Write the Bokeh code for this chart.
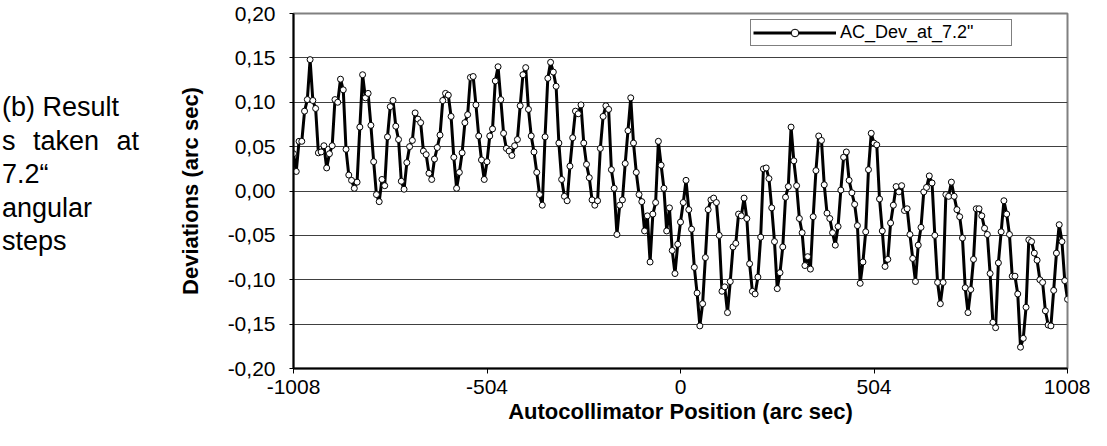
import numpy as np
from bokeh.plotting import figure
from bokeh.layouts import row
from bokeh.models import (Range1d, FixedTicker, CustomJSTickFormatter, Div,
                          Legend, LegendItem, ColumnDataSource)
from bokeh.embed import file_html
from bokeh.resources import INLINE

# ---------------- data ----------------
x_start = -1008.0
x_step = 7.2
deviations = [
    0.042, 0.022, 0.056, 0.056, 0.090, 0.103, 0.148, 0.102, 0.093, 0.043,
    0.044, 0.051, 0.026, 0.042, 0.051, 0.103, 0.100, 0.126, 0.114, 0.047,
    0.018, 0.012, 0.003, 0.010, 0.072, 0.131, 0.105, 0.110, 0.074, 0.033,
    -0.004, -0.012, 0.013, 0.006, 0.061, 0.095, 0.102, 0.073, 0.058, 0.011,
    0.002, 0.032, 0.050, 0.057, 0.088, 0.081, 0.077, 0.045, 0.041, 0.020,
    0.013, 0.036, 0.049, 0.063, 0.102, 0.110, 0.108, 0.084, 0.038, 0.003,
    0.021, 0.043, 0.077, 0.086, 0.128, 0.129, 0.097, 0.062, 0.035, 0.013,
    0.033, 0.062, 0.070, 0.124, 0.140, 0.103, 0.065, 0.048, 0.045, 0.040,
    0.051, 0.058, 0.096, 0.131, 0.139, 0.092, 0.062, 0.044, 0.021, -0.004,
    -0.016, 0.061, 0.127, 0.145, 0.134, 0.118, 0.054, 0.013, -0.006, -0.011,
    0.028, 0.060, 0.090, 0.087, 0.097, 0.054, 0.030, 0.015, -0.010, -0.016,
    -0.011, 0.048, 0.084, 0.096, 0.092, 0.024, 0.003, -0.049, -0.016, -0.010,
    0.031, 0.068, 0.105, 0.054, 0.021, -0.004, -0.012, -0.045, -0.028, -0.080,
    -0.026, -0.013, 0.056, 0.029, 0.003, -0.045, -0.019, -0.067, -0.093, -0.060,
    -0.035, -0.013, 0.012, -0.021, -0.043, -0.086, -0.115, -0.152, -0.127, -0.075,
    -0.021, -0.010, -0.008, -0.013, -0.050, -0.113, -0.108, -0.137, -0.102, -0.063,
    -0.059, -0.026, -0.028, -0.008, -0.031, -0.082, -0.113, -0.116, -0.097, -0.052,
    0.025, 0.026, 0.014, -0.019, -0.057, -0.110, -0.092, -0.063, -0.007, 0.005,
    0.072, 0.034, 0.006, -0.031, -0.047, -0.084, -0.074, -0.088, -0.029, 0.023,
    0.062, 0.057, 0.007, -0.025, -0.031, -0.047, -0.061, -0.040, 0.001, 0.038,
    0.044, 0.012, -0.002, -0.015, -0.039, -0.104, -0.080, -0.046, 0.024, 0.065,
    0.054, 0.052, -0.009, -0.045, -0.085, -0.077, -0.036, -0.016, 0.005, -0.001,
    0.006, -0.022, -0.020, -0.049, -0.076, -0.102, -0.061, -0.041, -0.001, 0.004,
    0.017, 0.009, -0.050, -0.103, -0.127, -0.103, -0.004, -0.006, 0.010, -0.006,
    -0.021, -0.029, -0.053, -0.109, -0.137, -0.111, -0.077, -0.020, -0.020, -0.028,
    -0.042, -0.049, -0.093, -0.148, -0.154, -0.081, -0.046, -0.011, -0.026, -0.049,
    -0.096, -0.096, -0.116, -0.176, -0.166, -0.131, -0.055, -0.057, -0.070, -0.078,
    -0.100, -0.103, -0.135, -0.151, -0.152, -0.112, -0.070, -0.038, -0.057, -0.101,
    -0.122,
]
positions = [round(x_start + x_step * i, 1) for i in range(len(deviations))]

x_ticks = [-1008, -504, 0, 504, 1008]
y_ticks = [-0.20, -0.15, -0.10, -0.05, 0.00, 0.05, 0.10, 0.15, 0.20]
series_name = 'AC_Dev_at_7.2"'
x_title = "Autocollimator Position (arc sec)"
y_title = "Deviations (arc sec)"
caption_first = "(b) Result"
caption_words = ["s", "taken", "at"]
caption_rest = ["7.2\u201c", "angular", "steps"]

FONT = "Liberation Sans"

# ---------------- side caption (left column) ----------------
line_css = "height:33.5px;line-height:33.5px;white-space:nowrap;"
html = "<div style=\"font-family:'Liberation Sans',Arial,sans-serif;font-size:27px;color:#000;padding-top:91px;padding-left:2px;\">"
html += f"<div style='{line_css}'>{caption_first}</div>"
html += (f"<div style='{line_css}display:flex;justify-content:space-between;width:137px;'>"
         + "".join(f"<span>{w}</span>" for w in caption_words) + "</div>")
for t in caption_rest:
    html += f"<div style='{line_css}'>{t}</div>"
html += "</div>"
caption = Div(text=html, width=143, height=430, margin=(0, 0, 0, 0))

# ---------------- figure ----------------
p = figure(width=947, height=430, output_backend="svg", toolbar_location=None,
           x_range=Range1d(-1008, 1008), y_range=Range1d(-0.2, 0.2),
           min_border_left=150, min_border_right=23, min_border_top=13,
           min_border_bottom=62, margin=(0, 0, 0, 0))
p.background_fill_color = "white"
p.border_fill_color = "white"
p.outline_line_color = "#808080"
p.outline_line_width = 2

p.xgrid.visible = False
p.ygrid.ticker = FixedTicker(ticks=y_ticks)
p.ygrid.grid_line_color = "#404040"
p.ygrid.grid_line_width = 1

for ax in (p.xaxis[0], p.yaxis[0]):
    ax.axis_line_color = "black"
    ax.axis_line_width = 2
    ax.major_tick_line_color = "black"
    ax.major_tick_line_width = 1
    ax.minor_tick_line_color = None
    ax.major_tick_in = 0
    ax.major_label_text_font = FONT
    ax.major_label_text_font_size = "21px"
    ax.major_label_text_color = "black"
    ax.axis_label_text_font = FONT
    ax.axis_label_text_font_size = "22px"
    ax.axis_label_text_font_style = "bold"
    ax.axis_label_text_color = "black"

p.xaxis.ticker = FixedTicker(ticks=x_ticks)
p.xaxis.formatter = CustomJSTickFormatter(code="return tick.toFixed(0);")
p.xaxis.major_tick_out = 5
p.xaxis.major_label_standoff = 6
p.xaxis.axis_label = x_title
p.xaxis.axis_label_standoff = 2

p.yaxis.ticker = FixedTicker(ticks=y_ticks)
p.yaxis.formatter = CustomJSTickFormatter(code="return tick.toFixed(2).replace('.', ',');")
p.yaxis.major_tick_out = 4
p.yaxis.major_label_standoff = 14
p.yaxis.axis_label = y_title
p.yaxis.axis_label_standoff = 22

src = ColumnDataSource(dict(x=positions, y=deviations))
line_r = p.line("x", "y", source=src, line_color="black", line_width=3)
pts_r = p.scatter("x", "y", source=src, marker="circle", size=6,
                  fill_color="white", line_color="black", line_width=1)

legend = Legend(items=[LegendItem(label=series_name, renderers=[line_r, pts_r])],
                location=(457, 322))
legend.margin = 0
legend.padding = 2
legend.spacing = 0
legend.glyph_width = 83
legend.glyph_height = 19
legend.label_height = 19
legend.label_width = 169
legend.label_standoff = 4
legend.label_text_font = FONT
legend.label_text_font_size = "18px"
legend.label_text_color = "black"
legend.border_line_color = "black"
legend.border_line_width = 1
legend.background_fill_color = "white"
legend.background_fill_alpha = 1
p.add_layout(legend, "center")

layout = row(caption, p, margin=(0, 0, 0, 0))
open("out.html", "w").write(file_html(layout, INLINE))
